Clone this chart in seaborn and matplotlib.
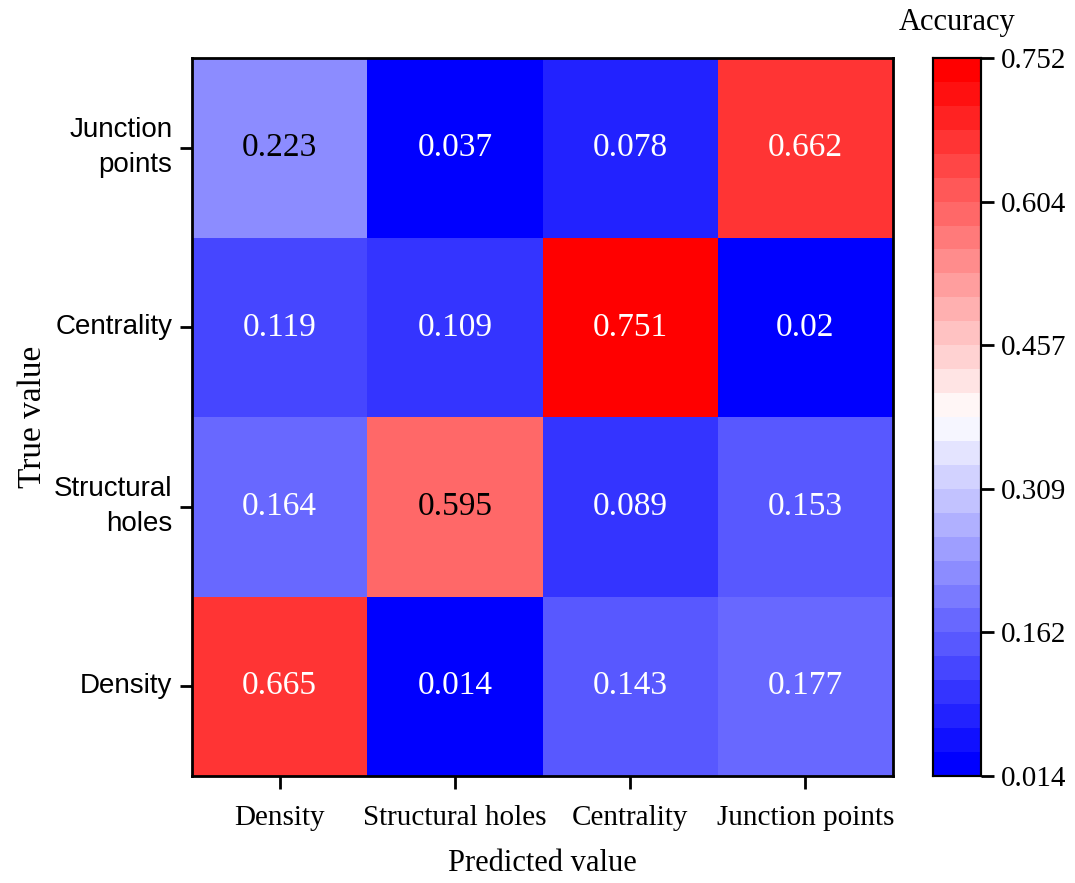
import numpy as np
import pandas as pd
import seaborn as sns
import matplotlib
matplotlib.use("Agg")
import matplotlib.pyplot as plt
from matplotlib.colors import ListedColormap

# ---- data ----
pred_labels = ["Density", "Structural holes", "Centrality", "Junction points"]
true_labels = ["Junction\npoints", "Centrality", "Structural\nholes", "Density"]
row_junction = [0.223, 0.037, 0.078, 0.662]
row_centrality = [0.119, 0.109, 0.751, 0.02]
row_structural = [0.164, 0.595, 0.089, 0.153]
row_density = [0.665, 0.014, 0.143, 0.177]
cbar_ticks = [0.014, 0.162, 0.309, 0.457, 0.604, 0.752]
vmin, vmax = 0.014, 0.752

df = pd.DataFrame([row_junction, row_centrality, row_structural, row_density],
                  index=true_labels, columns=pred_labels)

sns.set_theme(style="white", rc={"text.color": "black", "axes.labelcolor": "black",
                                 "xtick.color": "black", "ytick.color": "black"})
plt.rcParams["font.family"] = ["Liberation Serif", "DejaVu Serif"]

fig = plt.figure(figsize=(10.75, 8.83), dpi=100)
ax = fig.add_axes([192/1075, 107/883, 701/1075, 718/883])
cax = fig.add_axes([933/1075, 107/883, 48/1075, 718/883])

cmap = ListedColormap(plt.get_cmap("bwr")(np.linspace(0, 1, 30)))

sns.heatmap(df, ax=ax, cbar_ax=cax, cmap=cmap, vmin=vmin, vmax=vmax,
            annot=True, fmt="g", annot_kws={"fontsize": 24, "family": "Liberation Serif"},
            cbar_kws={"ticks": cbar_ticks})

for t in ax.texts:
    v = float(t.get_text())
    t.set_color("black" if 0.2 < v < 0.62 else "white")

for s in ax.spines.values():
    s.set_visible(True)
    s.set_color("black")
    s.set_linewidth(2)

ax.tick_params(axis="both", which="both", length=9, width=2, color="black",
               bottom=True, left=True)
ax.tick_params(axis="x", pad=12)
ax.tick_params(axis="y", pad=5)
ax.set_xticklabels(pred_labels, fontsize=21, family="Liberation Serif", rotation=0)
ax.set_yticklabels(true_labels, fontsize=20, family="Liberation Sans", rotation=0,
                   ha="right", multialignment="right", linespacing=1.45)
ax.set_xlabel("Predicted value", fontsize=22, labelpad=13)
ax.set_ylabel("True value", fontsize=24, labelpad=4)

cax.tick_params(length=9, width=2, color="black", labelsize=21, pad=5)
cax.set_yticklabels([f"{t:.3f}" for t in cbar_ticks])
for lab in cax.get_yticklabels():
    lab.set_family("Liberation Serif")
for s in cax.spines.values():
    s.set_visible(True)
    s.set_color("black")
    s.set_linewidth(1.5)
cax.set_title("Accuracy", fontsize=22, pad=20, family="Liberation Serif")

fig.savefig("out.png", dpi=100)
